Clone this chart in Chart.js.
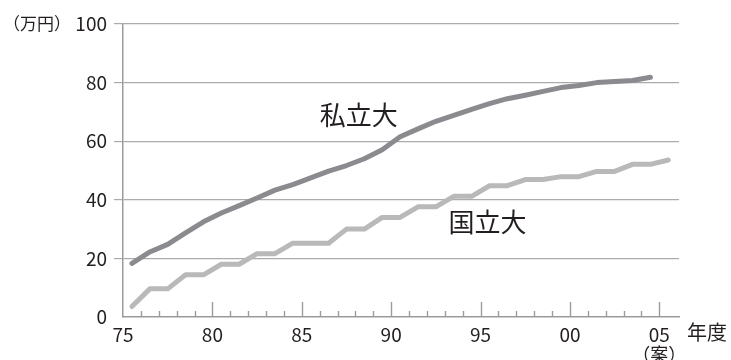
<!DOCTYPE html>
<html>
<head>
<meta charset="utf-8">
<script src="https://cdn.jsdelivr.net/npm/chart.js@4/dist/chart.umd.min.js"></script>
<style>
  html, body { margin: 0; padding: 0; background: #fff; }
  #fees { display: block; }
</style>
</head>
<body>
<canvas id="fees" width="731" height="360"></canvas>
<script>
// 年度 (1975〜2005) と授業料 (万円)
const privateYears = [1975, 1976, 1977, 1978, 1979, 1980, 1981, 1982, 1983, 1984,
    1985, 1986, 1987, 1988, 1989, 1990, 1991, 1992, 1993, 1994,
    1995, 1996, 1997, 1998, 1999, 2000, 2001, 2002, 2003, 2004];
const privateFee = [18.3, 22.2, 24.8, 28.7, 32.5, 35.5, 38.0, 40.6, 43.3, 45.2,
    47.5, 49.8, 51.7, 54.0, 57.1, 61.5, 64.2, 66.8, 68.8, 70.9,
    72.8, 74.5, 75.7, 77.0, 78.3, 79.0, 80.0, 80.4, 80.7, 81.8];

const nationalYears = [1975, 1976, 1977, 1978, 1979, 1980, 1981, 1982, 1983, 1984,
    1985, 1986, 1987, 1988, 1989, 1990, 1991, 1992, 1993, 1994,
    1995, 1996, 1997, 1998, 1999, 2000, 2001, 2002, 2003, 2004, 2005];
const nationalFee = [3.6, 9.6, 9.6, 14.4, 14.4, 18.0, 18.0, 21.6, 21.6, 25.2,
    25.2, 25.2, 30.0, 30.0, 34.0, 34.0, 37.6, 37.6, 41.2, 41.2,
    44.8, 44.8, 46.9, 46.9, 47.9, 47.9, 49.7, 49.7, 52.1, 52.1, 53.6];

const xTickYears = [1975, 1980, 1985, 1990, 1995, 2000, 2005];
const xTickLabels = ['75', '80', '85', '90', '95', '00', '05'];
const yTicks = [0, 20, 40, 60, 80, 100];

const TEXT = '#231f20';
const AXIS = '#9b9b9b';
const GRID = '#ababab';

Chart.defaults.font.family = '"Noto Sans CJK JP", "Noto Sans", sans-serif';

// 各年度の値は年度の幅の中央に置く
const toPoints = (years, vals) => years.map((yr, i) => ({ x: yr + 0.5, y: vals[i] }));

// 目盛り (内向き) と注記テキスト
const decorations = {
    id: 'decorations',
    beforeDatasetsDraw(chart) {
        const { ctx, chartArea, scales } = chart;
        ctx.save();
        ctx.strokeStyle = AXIS;
        ctx.lineWidth = 1.4;
        for (let yr = 1976; yr <= 2005; yr++) {
            const x = Math.round(scales.x.getPixelForValue(yr)) + 0.5;
            const len = yr % 5 === 0 ? 15 : 6;
            ctx.beginPath();
            ctx.moveTo(x, chartArea.bottom);
            ctx.lineTo(x, chartArea.bottom - len);
            ctx.stroke();
        }
        ctx.restore();
    },
    afterDraw(chart) {
        const { ctx, chartArea, scales } = chart;
        const xs = scales.x, ys = scales.y;
        ctx.save();
        ctx.fillStyle = TEXT;
        ctx.textBaseline = 'middle';

        ctx.font = '17px "Noto Sans CJK JP"';
        ctx.textAlign = 'left';
        ctx.fillText('（万円）', 3, ys.getPixelForValue(100));

        ctx.font = '20px "Noto Sans CJK JP"';
        ctx.fillText('年度', 687, chartArea.bottom + 15);

        ctx.font = '18px "Noto Sans CJK JP"';
        ctx.textAlign = 'center';
        ctx.fillText('（案）', xs.getPixelForValue(2005), chartArea.bottom + 37);

        ctx.font = '26px "Noto Sans CJK JP"';
        ctx.textAlign = 'left';
        ctx.fillText('私立大', xs.getPixelForValue(1986.0), ys.getPixelForValue(69));
        ctx.fillText('国立大', xs.getPixelForValue(1993.2), ys.getPixelForValue(32.4));
        ctx.restore();
    }
};

new Chart(document.getElementById('fees'), {
    type: 'line',
    data: {
        datasets: [{
            label: '私立大',
            data: toPoints(privateYears, privateFee),
            borderColor: '#8b8a8f',
            borderWidth: 5,
            borderCapStyle: 'round',
            borderJoinStyle: 'round',
            pointRadius: 0,
            tension: 0
        }, {
            label: '国立大',
            data: toPoints(nationalYears, nationalFee),
            borderColor: '#b9b9b9',
            borderWidth: 5,
            borderCapStyle: 'round',
            borderJoinStyle: 'round',
            pointRadius: 0,
            tension: 0
        }]
    },
    options: {
        responsive: false,
        maintainAspectRatio: false,
        animation: false,
        layout: { padding: { top: 24, right: 52, left: 0, bottom: 0 } },
        plugins: { legend: { display: false }, tooltip: { enabled: false } },
        scales: {
            x: {
                type: 'linear',
                min: 1975,
                max: 2006.1,
                afterFit(scale) { scale.height = 43; },
                grid: { display: false, drawTicks: false },
                border: { display: true, color: AXIS, width: 1.5 },
                ticks: {
                    stepSize: 1,
                    autoSkip: false,
                    maxRotation: 0,
                    padding: 6,
                    color: TEXT,
                    font: { size: 19 },
                    callback: (v) => {
                        const i = xTickYears.indexOf(v);
                        return i >= 0 ? xTickLabels[i] : '';
                    }
                }
            },
            y: {
                min: yTicks[0],
                max: yTicks[yTicks.length - 1],
                afterFit(scale) { scale.width = 123; },
                afterBuildTicks(scale) { scale.ticks = yTicks.map(v => ({ value: v })); },
                grid: {
                    color: (c) => c.tick && c.tick.value === 0 ? 'rgba(0,0,0,0)' : GRID,
                    lineWidth: 1.2,
                    tickLength: 9
                },
                border: { display: true, color: AXIS, width: 1.5 },
                ticks: { padding: 7, color: TEXT, font: { size: 19 } }
            }
        }
    },
    plugins: [decorations]
});
</script>
</body>
</html>
